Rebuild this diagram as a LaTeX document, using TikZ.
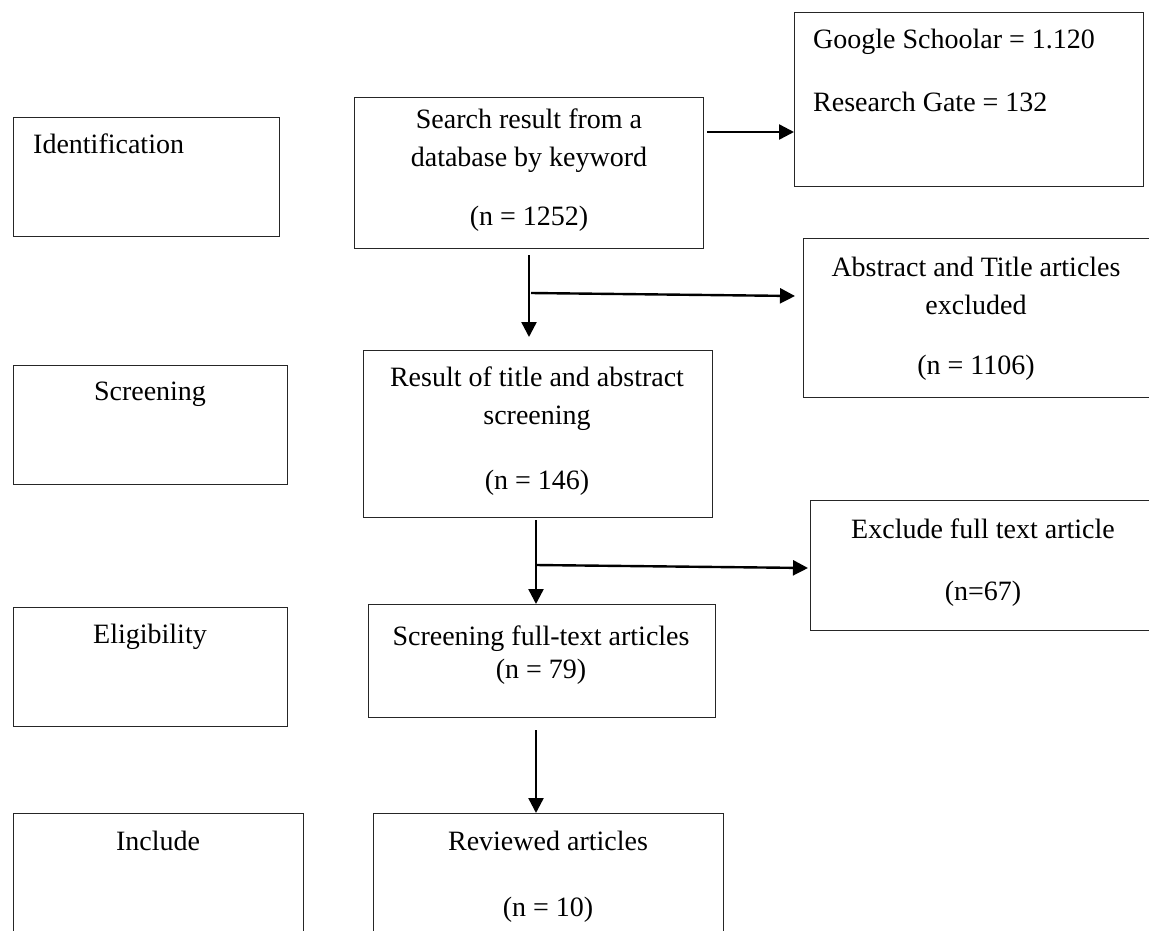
\documentclass[tikz,border=0pt]{standalone}
\usepackage{fontspec}
\setmainfont{Liberation Serif}
\usetikzlibrary{arrows.meta,calc}
\begin{document}
\begin{tikzpicture}[x=1pt,y=-1pt,
    box/.style={draw=black!85,line width=1.3pt,inner sep=0pt,anchor=north west},
    txt/.style={inner sep=0pt,align=center,anchor=north,font=\fontsize{28}{38}\selectfont},
    arr/.style={line width=2.4pt,-{Triangle[length=15pt,width=15pt]}}]
    \clip (0,0) rectangle (1149,930);
    % stage boxes on the left
    \node[box,minimum width=266,minimum height=119] (idbox) at (13,117) {};
    \node[box,minimum width=274,minimum height=119] (scrbox) at (13,365) {};
    \node[box,minimum width=274,minimum height=119] (eligbox) at (13,607) {};
    \node[box,minimum width=290,minimum height=150] (incbox) at (13,813) {};
    \node[txt,anchor=north west,align=left] (idtxt) at (33,134) {Identification};
    \node[txt] (scrtxt) at (150,382) {Screening};
    \node[txt] (eligtxt) at (150,624) {Eligibility};
    \node[txt] (inctxt) at (158,831) {Include};
    % main flow in the middle
    \node[box,minimum width=349,minimum height=151] (search) at (354,97) {};
    \node[box,minimum width=349,minimum height=167] (result) at (363,350) {};
    \node[box,minimum width=347,minimum height=113] (fulltext) at (368,604) {};
    \node[box,minimum width=350,minimum height=150] (reviewed) at (373,813) {};
    \node[txt] (searchtxt) at (529,109) {Search result from a\\database by keyword\\[21pt](n = 1252)};
    \node[txt] (resulttxt) at (537,367) {Result of title and abstract\\screening\\[27pt](n = 146)};
    \node[txt] (fulltxt) at (541,626) {Screening full-text articles\\[-5pt](n = 79)};
    \node[txt] (reviewtxt) at (548,831) {Reviewed articles\\[28pt](n = 10)};
    % side boxes on the right
    \node[box,minimum width=349,minimum height=174] (google) at (794,12) {};
    \node[box,minimum width=400,minimum height=159] (abstract) at (803,238) {};
    \node[box,minimum width=400,minimum height=130] (exclude) at (810,500) {};
    \node[txt,anchor=north west,align=left] (googletxt) at (813,29) {Google Schoolar = 1.120\\[25pt]Research Gate = 132};
    \node[txt] (abstxt) at (976,257) {Abstract and Title articles\\excluded\\[22pt](n = 1106)};
    \node[txt] (excltxt) at (983,519) {Exclude full text article\\[24pt](n=67)};
    % arrows
    \coordinate (g1) at (707,132);
    \draw[arr] (g1) -- (g1 -| google.west);
    \coordinate (d1) at (529,255);
    \draw[arr,shorten >=13pt] (d1) -- (d1 |- result.north);
    \coordinate (b1) at (531,293);
    \coordinate (b1e) at (795,296);
    \draw[arr] (b1) -- (b1e);
    \coordinate (d2) at (536,520);
    \draw[arr] (d2) -- (d2 |- fulltext.north);
    \coordinate (b2) at (536,565);
    \coordinate (b2e) at (808,568);
    \draw[arr] (b2) -- (b2e);
    \coordinate (d3) at (536,730);
    \draw[arr] (d3) -- (d3 |- reviewed.north);
\end{tikzpicture}
\end{document}
